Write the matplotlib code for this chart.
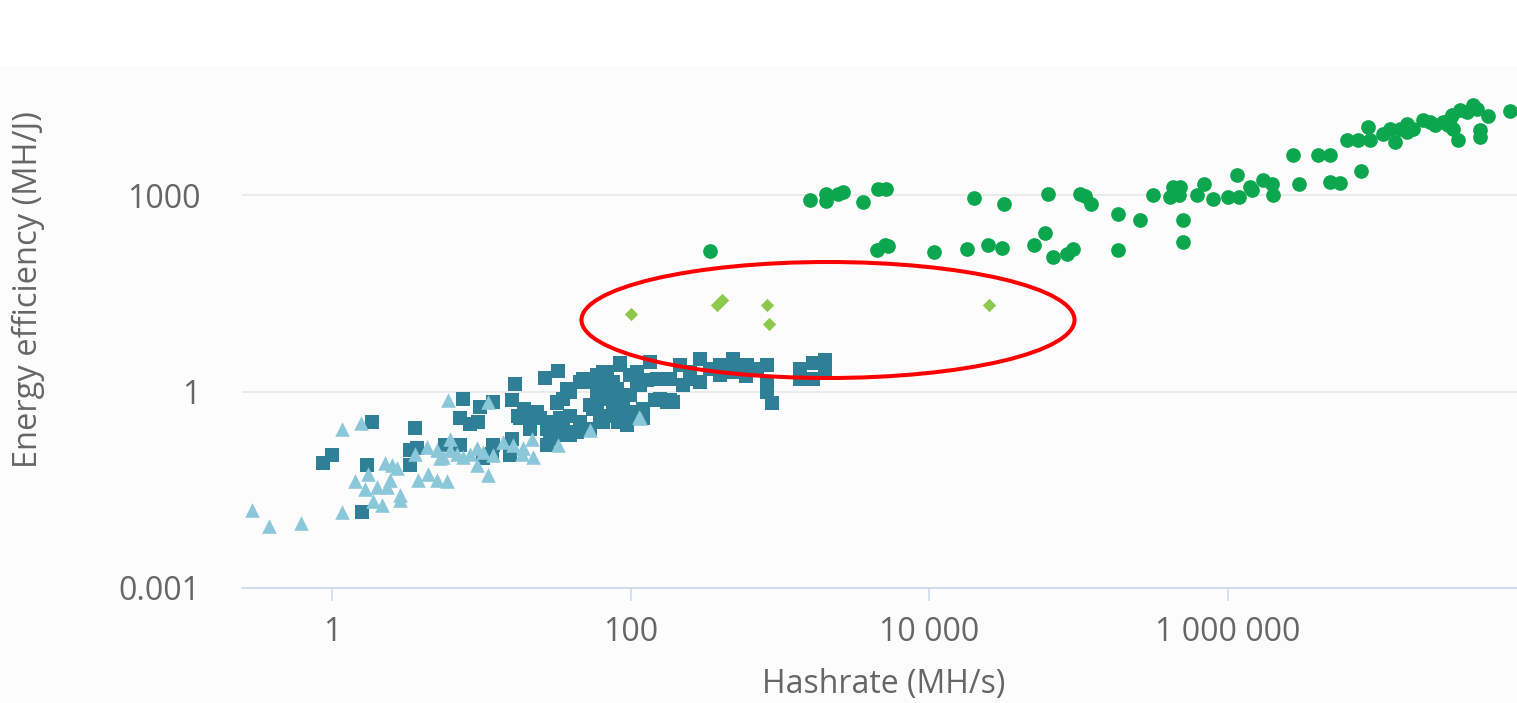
import numpy as np
import matplotlib
matplotlib.use("Agg")
import matplotlib.pyplot as plt
from matplotlib.patches import Ellipse, Rectangle

plt.rcParams['font.family'] = ['Open Sans', 'DejaVu Sans']

# CPU miners (triangles)
cpu_hash = [0.29, 0.38, 0.62, 1.16, 1.16, 1.56, 1.43, 1.75, 1.66, 1.87, 2.15, 2.85, 2.85,
            1.99, 2.32, 2.45, 2.26, 2.51, 2.71, 3.78, 4.42, 5.03, 5.87, 3.6, 4.31, 5.03,
            6.17, 6.17, 6.0, 5.57, 6.84, 7.57, 8.4, 9.3, 11.1, 11.1, 9.3, 10.3, 12.0,
            14.0, 16.4, 19.1, 21.8, 22.3, 18.6, 32.8, 53.5, 116, 113, 5.29]
cpu_eff = [0.0154, 0.0089, 0.0099, 0.0146, 0.266, 0.336, 0.0433, 0.056, 0.033, 0.0214,
           0.0188, 0.026, 0.022, 0.035, 0.035, 0.044, 0.080, 0.075, 0.067, 0.044, 0.056,
           0.044, 0.043, 0.113, 0.143, 0.127, 0.19, 0.127, 0.74, 0.10, 0.113, 0.10, 0.113,
           0.075, 0.70, 0.053, 0.135, 0.12, 0.106, 0.171, 0.151, 0.135, 0.19, 0.10, 0.113,
           0.151, 0.257, 0.39, 0.41, 0.095]

# GPU miners (squares)
gpu_hash = [32.7, 26.7, 16.8, 16.1, 12.0, 7.5, 9.8, 7.2, 8.4, 9.5, 3.6, 1.85, 3.33, 3.7,
            3.33, 1.71, 0.87, 1.0, 1.59, 5.7, 7.2, 10.3, 11.8, 16.1, 18.2, 21.2, 27.5,
            33.7, 28.8, 32.7, 35.3, 45.8, 56.0, 69.5, 84.9, 39.3, 45.8, 53.5, 65.3, 76.2,
            88.9, 19.3, 23.6, 32.1, 37.5, 53.5, 59.6, 76.2, 88.9, 17.6, 24.7, 21.2, 27.5,
            32.1, 32.1, 39.3, 48.0, 59.6, 84.9, 43.8, 59.6, 72.8, 81.1, 99.1, 104, 121,
            121, 99.1, 110, 129, 135, 150, 165, 157, 175, 184, 27.5, 39.3, 35.3, 65.3,
            65.3, 81.1, 81.1, 82, 94.6, 48.0, 65.3, 76.2, 56.0, 62.4, 99.1, 116, 110, 116,
            184, 146, 192, 214, 250, 292, 292, 340, 397, 485, 485, 603, 703, 820, 820,
            820, 885, 1360, 1360, 1670, 1670, 2000, 2000, 224, 250, 397, 590, 15.6, 12.0]
gpu_eff = [2.09, 1.62, 1.32, 0.74, 0.70, 0.78, 0.58, 0.39, 0.32, 0.34, 0.28, 0.34, 0.127,
           0.135, 0.075, 0.075, 0.080, 0.106, 0.0146, 0.15, 0.15, 0.095, 0.113, 0.19, 0.39,
           0.39, 0.34, 0.39, 0.19, 0.22, 0.78, 1.41, 1.58, 2.0, 2.68, 0.43, 0.34, 0.27,
           0.34, 0.49, 0.34, 0.55, 0.49, 0.70, 1.11, 0.62, 0.99, 1.11, 0.78, 0.43, 0.39,
           0.27, 0.27, 0.32, 0.66, 0.99, 1.41, 1.77, 2.52, 0.24, 0.58, 0.78, 0.55, 0.88,
           0.43, 0.55, 0.39, 1.77, 1.41, 1.49, 2.84, 1.58, 1.58, 0.78, 0.70, 0.74, 0.15,
           0.22, 0.34, 1.25, 0.88, 1.11, 0.43, 0.34, 0.31, 1.58, 2.0, 1.41, 0.55, 0.43,
           0.49, 0.39, 2.0, 1.25, 1.58, 0.74, 0.70, 2.52, 2.0, 3.19, 1.41, 2.24, 2.52,
           3.19, 2.0, 2.52, 2.24, 2.52, 1.41, 0.99, 0.66, 2.24, 1.58, 2.68, 1.58, 3.0,
           2.0, 1.25, 1.58, 1.77, 1.7, 0.106, 0.15]

# FPGA miners (diamonds)
fpga_hash = [100.6, 381, 408, 815, 845, 24900]
fpga_eff = [15.5, 20.8, 25.4, 21.3, 10.9, 21.3]

# ASIC miners (circles)
asic_hash = [340, 1590, 2040, 2040, 2450, 2640, 3600, 4540, 5140, 4470, 5060, 5300,
             10770, 17900, 19950, 24800, 30700, 31700, 50400, 59700, 62500, 67500, 83800,
             91900, 102000, 111000, 121000, 184000, 184000, 258000, 316000, 410000,
             430000, 479000, 471000, 501000, 501000, 622000, 693000, 796000, 1002000,
             1190000, 1150000, 1409000, 1452000, 1722000, 1977000, 2009000, 2735000,
             3000000, 4020000, 4840000, 4840000, 5650000, 7800000, 6290000, 7450000,
             8690000, 8960000, 1.096e7, 1.22e7, 1.318e7, 1.423e7, 1.586e7, 1.586e7,
             1.738e7, 2.03e7, 2.26e7, 2.44e7, 3.18e7, 3.59e7, 4.39e7, 4.67e7, 5.53e7,
             7.77e7, 3.22e7, 3.48e7, 4.89e7, 4.89e7, 2.76e7, 2.99e7, 3.08e7, 4.0e7]
asic_eff = [139, 833, 1050, 816, 1030, 1120, 787, 1230, 1230, 147, 175, 168, 136, 149,
            916, 175, 158, 742, 175, 265, 1054, 114, 124, 149, 1054, 971, 742, 522, 147,
            412, 993, 940, 1334, 1334, 993, 423, 193, 993, 1500, 885, 940, 940, 2006,
            1334, 1183, 1683, 1500, 993, 4052, 1500, 4052, 4052, 1591, 1552, 2342, 6870,
            6870, 11000, 6870, 8690, 10350, 6490, 10350, 12350, 9220, 10350, 13870,
            13110, 11640, 16500, 19700, 23500, 20900, 16200, 19300, 10350, 6870, 9750,
            7730, 13100, 11600, 14700, 18600]

x_ticks = [1, 100, 1e4, 1e6]
x_labels = ['1', '100', '10 000', '1 000 000']
y_ticks = [0.001, 1, 1000]
y_labels = ['0.001', '1', '1000']

W, H = 1517, 703
fig = plt.figure(figsize=(W / 100, H / 100), dpi=100, facecolor='white')
fig.patches.append(Rectangle((0, 0), 1, (H - 66) / H, transform=fig.transFigure,
                             facecolor='#fcfcfc', edgecolor='none', zorder=-5))

ax = fig.add_axes([242 / W, 115 / H, 1275 / W, 520 / H])
ax.set_facecolor('none')
ax.set_xscale('log')
ax.set_yscale('log')
ax.set_xlim(10 ** -0.603, 10 ** 7.935)
ax.set_ylim(1e-3, 10 ** 4.94)

ax.scatter(gpu_hash, gpu_eff, marker='s', s=100, color='#2f8096', linewidths=0, zorder=2)
ax.scatter(cpu_hash, cpu_eff, marker='^', s=110, color='#8ac7d9', linewidths=0, zorder=3)
ax.scatter(fpga_hash, fpga_eff, marker='D', s=46, color='#8cc84b', linewidths=0, zorder=4)
ax.scatter(asic_hash, asic_eff, marker='o', s=112, color='#0ca64f', linewidths=0, zorder=4)

ax.set_xticks(x_ticks)
ax.set_xticklabels(x_labels)
ax.set_yticks(y_ticks)
ax.set_yticklabels(y_labels)
ax.minorticks_off()
ax.tick_params(axis='x', length=9, width=1.1, color='#ccd6eb', pad=11,
               labelsize=23, labelcolor='#666666')
ax.tick_params(axis='y', length=0, pad=30, labelsize=23, labelcolor='#666666')
ax.yaxis.grid(True, color='#e6e6e6', linewidth=1.1)
ax.set_axisbelow(True)
for side in ['top', 'right', 'left']:
    ax.spines[side].set_visible(False)
ax.spines['bottom'].set_color('#ccd6eb')
ax.spines['bottom'].set_linewidth(1.2)
ax.spines['bottom'].set_zorder(5)

fig.text(884 / W, 1 - 685 / H, 'Hashrate (MH/s)', ha='center', va='center',
         fontsize=23, color='#666666')
fig.text(28 / W, 1 - 290 / H, 'Energy efficiency (MH/J)', ha='center', va='center',
         rotation=90, fontsize=23.5, color='#666666')

# highlight the FPGA group
ring = Ellipse((828 / W, 1 - 320 / H), 493 / W, 116 / H, transform=fig.transFigure,
               fill=False, edgecolor='#ff0000', linewidth=2.9, zorder=10)
fig.patches.append(ring)

fig.savefig('out.png', dpi=100, facecolor=fig.get_facecolor())
